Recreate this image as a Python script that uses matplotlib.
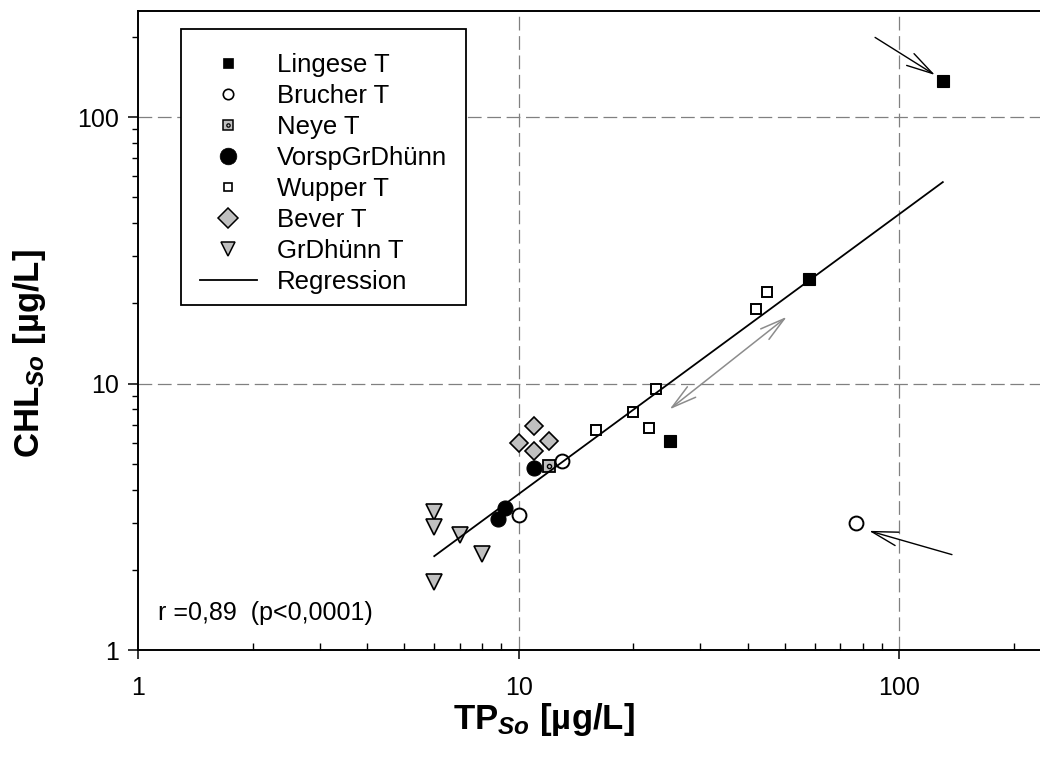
import matplotlib
matplotlib.use("Agg")
import matplotlib.pyplot as plt
from matplotlib.lines import Line2D
from matplotlib.patches import Rectangle
from matplotlib.ticker import LogLocator, NullFormatter, FixedLocator

plt.rcParams['font.family'] = ['Liberation Sans', 'DejaVu Sans']
plt.rcParams['mathtext.fontset'] = 'custom'
plt.rcParams['mathtext.rm'] = 'Liberation Sans'
plt.rcParams['mathtext.bf'] = 'Liberation Sans:bold'
plt.rcParams['mathtext.it'] = 'Liberation Sans:italic'
plt.rcParams['mathtext.bfit'] = 'Liberation Sans:italic:bold'

# --- data: summer means, total phosphorus vs chlorophyll (µg/L) ---
lingese_tp = [25, 58, 130]
lingese_chl = [6.1, 24.6, 137]
brucher_tp = [10, 13, 77]
brucher_chl = [3.2, 5.1, 3.0]
neye_tp = [12]
neye_chl = [4.9]
vorsp_tp = [8.8, 9.2, 11]
vorsp_chl = [3.1, 3.4, 4.8]
wupper_tp = [16, 20, 22, 23, 42, 45]
wupper_chl = [6.7, 7.8, 6.8, 9.5, 19, 22]
bever_tp = [10, 11, 11, 12]
bever_chl = [6.0, 6.9, 5.6, 6.1]
grdhuenn_tp = [6, 6, 7, 8, 6]
grdhuenn_chl = [3.3, 2.9, 2.7, 2.3, 1.8]
reg_tp = [6, 130]
reg_chl = [2.25, 57]

# annotation arrows (tail, head) in data units
arrow_top = [(86.3, 199), (124, 143.8)]
arrow_bottom = [(137.4, 2.28), (83.2, 2.80)]
arrow_double = [(24.9, 8.0), (50.6, 17.8)]

x_ticks = [1, 10, 100]
y_ticks = [1, 10, 100]
tick_labels = ['1', '10', '100']

GREY = '#c0c0c0'
W, H = 1040, 760
AX_L, AX_R, AX_T, AX_B = 138, 1040, 11, 650
AW, AH = AX_R - AX_L, AX_B - AX_T


def ax_x(px):
    return (px - AX_L) / AW


def ax_y(py):
    return (AX_B - py) / AH


fig = plt.figure(figsize=(W / 100, H / 100), dpi=100)
ax = fig.add_axes([AX_L / W, 1 - AX_B / H, AW / W, AH / H])
ax.set_xscale('log')
ax.set_yscale('log')
ax.set_xlim(1, 234)
ax.set_ylim(1, 250)

# dashed reference grid at the decades
grid_kw = dict(color='#808080', lw=0.9, ls=(0, (11, 4.5)), zorder=0.5)
for v in x_ticks[1:]:
    ax.axvline(v, **grid_kw)
for v in y_ticks[1:]:
    ax.axhline(v, **grid_kw)

mk = dict(ls='none', mec='k', zorder=3)
ax.plot(lingese_tp, lingese_chl, marker='s', ms=8, mfc='k', mew=0.8, **mk)
ax.plot(vorsp_tp, vorsp_chl, marker='o', ms=10.8, mfc='k', mew=0.8, **mk)
ax.plot(neye_tp, neye_chl, marker='s', ms=9.3, mfc=GREY, mew=1.3, **mk)
ax.plot(neye_tp, neye_chl, marker='o', ms=3, mfc=GREY, mew=1.0, **mk)
ax.plot(brucher_tp, brucher_chl, marker='o', ms=10, mfc='white', mew=1.4, **mk)
ax.plot(wupper_tp, wupper_chl, marker='s', ms=7.2, mfc='white', mew=1.4, **mk)
ax.plot(bever_tp, bever_chl, marker='D', ms=9.4, mfc=GREY, mew=1.2, **mk)
ax.plot(grdhuenn_tp, grdhuenn_chl, marker='v', ms=12, mfc=GREY, mew=1.2, **mk)

ax.plot(reg_tp, reg_chl, color='k', lw=1.3, zorder=4)

# arrows
head = "->, head_length=1.9, head_width=0.5"
for (t, h) in (arrow_top, arrow_bottom):
    ax.annotate('', xy=h, xytext=t,
                arrowprops=dict(arrowstyle=head, color='k', lw=1.0,
                                shrinkA=0, shrinkB=0, mutation_scale=10))
ax.annotate('', xy=arrow_double[1], xytext=arrow_double[0],
            arrowprops=dict(arrowstyle="<->, head_length=1.8, head_width=0.48",
                            color='#8c8c8c', lw=1.1, shrinkA=0, shrinkB=0,
                            mutation_scale=10))

# axes styling
ax.spines['right'].set_visible(False)
for s in ('left', 'bottom', 'top'):
    ax.spines[s].set_linewidth(1.4)
    ax.spines[s].set_zorder(5)

ax.xaxis.set_major_locator(FixedLocator(x_ticks))
ax.yaxis.set_major_locator(FixedLocator(y_ticks))
ax.set_xticklabels(tick_labels)
ax.set_yticklabels(tick_labels)
ax.xaxis.set_minor_locator(LogLocator(base=10, subs=range(2, 10)))
ax.yaxis.set_minor_locator(LogLocator(base=10, subs=range(2, 10)))
ax.xaxis.set_minor_formatter(NullFormatter())
ax.yaxis.set_minor_formatter(NullFormatter())
ax.tick_params(axis='x', which='major', direction='out', length=6.5, width=1.1,
               labelsize=18, pad=12)
ax.tick_params(axis='x', which='minor', direction='in', length=5, width=1.0)
ax.tick_params(axis='y', which='major', direction='out', length=7, width=1.1,
               labelsize=18, pad=7)
ax.tick_params(axis='y', which='minor', direction='out', length=4.5, width=1.0)
ax.tick_params(top=False, right=False, which='both')

# legend: entries without frame, box drawn separately
handles = [
    Line2D([], [], ls='none', marker='s', ms=7.5, mfc='k', mec='k', mew=0.5),
    Line2D([], [], ls='none', marker='o', ms=7.5, mfc='white', mec='k', mew=1.2),
    (Line2D([], [], ls='none', marker='s', ms=7, mfc=GREY, mec='k', mew=1.1),
     Line2D([], [], ls='none', marker='o', ms=2.4, mfc=GREY, mec='k', mew=0.9)),
    Line2D([], [], ls='none', marker='o', ms=12, mfc='k', mec='k', mew=0.5),
    Line2D([], [], ls='none', marker='s', ms=5.5, mfc='white', mec='k', mew=1.2),
    Line2D([], [], ls='none', marker='D', ms=10, mfc=GREY, mec='k', mew=1.1),
    Line2D([], [], ls='none', marker='v', ms=9.5, mfc=GREY, mec='k', mew=1.1),
    Line2D([], [], color='k', lw=1.3),
]
labels = ['Lingese T', 'Brucher T', 'Neye T', 'VorspGrDhünn', 'Wupper T',
          'Bever T', 'GrDhünn T', 'Regression']
box = Rectangle((ax_x(181), ax_y(305)), ax_x(466) - ax_x(181),
                ax_y(29) - ax_y(305), transform=ax.transAxes,
                facecolor='white', edgecolor='k', lw=1.3, zorder=5.5)
ax.add_patch(box)
leg = ax.legend(handles, labels, loc='upper left',
                bbox_to_anchor=(ax_x(200), ax_y(53)), borderaxespad=0,
                handlelength=2.2, handletextpad=0.8, labelspacing=0.27,
                borderpad=0, fontsize=18.5, frameon=False)
leg.set_zorder(6)

ax.text(ax_x(158), ax_y(620), 'r =0,89  (p<0,0001)', transform=ax.transAxes,
        fontsize=18, va='baseline', ha='left')

fig.text(544 / W, 1 - 720 / H, r'TP$_{\mathbfit{So}}$ [µg/L]', fontsize=25,
         fontweight='bold', ha='center', va='center')
fig.text(30 / W, 1 - 354 / H, r'CHL$_{\mathbfit{So}}$ [µg/L]', fontsize=25,
         fontweight='bold', ha='center', va='center', rotation=90)

fig.savefig('out.png', dpi=100)
